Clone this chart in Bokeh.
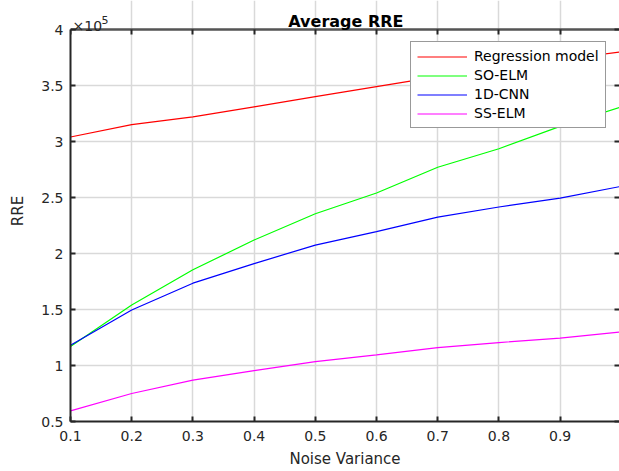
from bokeh.plotting import figure
from bokeh.models import Range1d, FixedTicker, LinearAxis, Label, Legend, LegendItem
from bokeh.embed import file_html
from bokeh.resources import INLINE

# Data (RRE in units of 1e5)
noise_variance = [0.1, 0.2, 0.3, 0.4, 0.5, 0.6, 0.7, 0.8, 0.9, 1.0]
regression_model = [3.04, 3.15, 3.22, 3.31, 3.40, 3.49, 3.58, 3.66, 3.73, 3.80]
so_elm = [1.17, 1.54, 1.855, 2.12, 2.355, 2.54, 2.77, 2.935, 3.135, 3.31]
cnn_1d = [1.18, 1.495, 1.735, 1.91, 2.075, 2.195, 2.325, 2.415, 2.495, 2.60]
ss_elm = [0.595, 0.75, 0.87, 0.955, 1.035, 1.095, 1.16, 1.205, 1.245, 1.30]

series_names = ["Regression model", "SO-ELM", "1D-CNN", "SS-ELM"]
series_colors = ["#ff0000", "#00ff00", "#0000ff", "#ff00ff"]

x_ticks = [0.1, 0.2, 0.3, 0.4, 0.5, 0.6, 0.7, 0.8, 0.9, 1.0]
y_ticks = [0.5, 1.0, 1.5, 2.0, 2.5, 3.0, 3.5, 4.0]
y_tick_labels = ["0.5", "1", "1.5", "2", "2.5", "3", "3.5", "4"]
title_text = "Average RRE"
exp_base, exp_power = "\u00d710", "5"

X_MIN, X_MAX = x_ticks[0], x_ticks[-1]
Y_MIN, Y_MAX = y_ticks[0], y_ticks[-1]

FONT = "DejaVu Sans"
TXT = "#262626"

# frame fills the top of the canvas; axes box spans [Y_MIN, Y_MAX]
p = figure(width=619, height=471, output_backend="svg", toolbar_location=None,
           x_range=Range1d(X_MIN, 0.997), y_range=Range1d(Y_MIN, 4.259),
           min_border_left=70, min_border_right=0, min_border_top=0, min_border_bottom=50)
p.background_fill_color = "white"
p.border_fill_color = "white"
p.outline_line_color = None

# grid
for g in [p.xgrid[0], p.ygrid[0]]:
    g.grid_line_color = "#d9d9d9"
    g.grid_line_width = 1.5
p.xgrid[0].ticker = FixedTicker(ticks=x_ticks)
p.ygrid[0].ticker = FixedTicker(ticks=y_ticks)
p.xgrid[0].bounds = (Y_MIN, Y_MAX)

all_series = [regression_model, so_elm, cnn_1d, ss_elm]
renderers = []
for vals, col in zip(all_series, series_colors):
    r = p.line(noise_variance, vals, line_color=col, line_width=1.2)
    renderers.append(r)

# box top edge at Y_MAX
p.segment(x0=[X_MIN], y0=[Y_MAX], x1=[X_MAX], y1=[Y_MAX], line_color="#555555", line_width=2.5)

# axes styling
for ax in [p.xaxis[0], p.yaxis[0]]:
    ax.axis_line_color = TXT
    ax.axis_line_width = 2
    ax.major_tick_in = 5
    ax.major_tick_out = 0
    ax.major_tick_line_color = TXT
    ax.major_tick_line_width = 2
    ax.minor_tick_line_color = None
    ax.major_label_text_font = FONT
    ax.major_label_text_font_size = "14px"
    ax.major_label_text_color = TXT
    ax.axis_label_text_font = FONT
    ax.axis_label_text_font_size = "15px"
    ax.axis_label_text_font_style = "normal"
    ax.axis_label_text_color = TXT

p.xaxis[0].ticker = FixedTicker(ticks=x_ticks)
p.yaxis[0].ticker = FixedTicker(ticks=y_ticks)
p.yaxis[0].bounds = (Y_MIN, Y_MAX)
p.yaxis[0].major_label_overrides = {t: l for t, l in zip(y_ticks, y_tick_labels)}
p.xaxis[0].axis_label = "Noise Variance"
p.yaxis[0].axis_label = "RRE"
p.xaxis[0].major_label_standoff = 9
p.yaxis[0].major_label_standoff = 7
p.xaxis[0].axis_label_standoff = 6
p.yaxis[0].axis_label_standoff = 11

# inward ticks along the top of the box (axis placed at Y_MAX) and on the right
top = LinearAxis(ticker=FixedTicker(ticks=x_ticks), major_label_overrides={t: "" for t in x_ticks},
                 fixed_location=Y_MAX,
                 axis_line_color=None, major_tick_in=0, major_tick_out=5,
                 major_tick_line_color=TXT, major_tick_line_width=2, minor_tick_line_color=None,
                 major_label_standoff=0, major_label_text_font_size="1px")
right = LinearAxis(ticker=FixedTicker(ticks=y_ticks), major_label_overrides={t: "" for t in y_ticks},
                   bounds=(Y_MIN, Y_MAX),
                   axis_line_color=None, major_tick_in=5, major_tick_out=0,
                   major_tick_line_color=TXT, major_tick_line_width=2, minor_tick_line_color=None,
                   major_label_standoff=0, major_label_text_font_size="1px")
p.add_layout(top, "below")
p.add_layout(right, "right")

# title and exponent, placed relative to the top of the axes box
p.add_layout(Label(x=(X_MIN + X_MAX) / 2, y=Y_MAX, text=title_text, text_align="center",
                   text_baseline="alphabetic", y_offset=8,
                   text_font=FONT, text_font_size="16px", text_font_style="bold", text_color="#000000"))
p.add_layout(Label(x=X_MIN, y=Y_MAX, text=exp_base, text_baseline="alphabetic",
                   x_offset=2, y_offset=4,
                   text_font=FONT, text_font_size="14px", text_color=TXT))
p.add_layout(Label(x=X_MIN, y=Y_MAX, text=exp_power, text_baseline="alphabetic",
                   x_offset=31, y_offset=10,
                   text_font=FONT, text_font_size="11px", text_color=TXT))

legend = Legend(items=[LegendItem(label=n, renderers=[r]) for n, r in zip(series_names, renderers)],
                location=(340, 293))
legend.label_text_font = FONT
legend.label_text_font_size = "14px"
legend.label_text_color = "#000000"
legend.glyph_width = 50
legend.glyph_height = 15
legend.label_height = 15
legend.label_standoff = 7
legend.spacing = 3
legend.padding = 6
legend.margin = 0
legend.border_line_color = "#333333"
legend.border_line_width = 1
legend.background_fill_color = "white"
legend.background_fill_alpha = 1.0
p.add_layout(legend, "center")

open("out.html", "w").write(file_html(p, INLINE))
